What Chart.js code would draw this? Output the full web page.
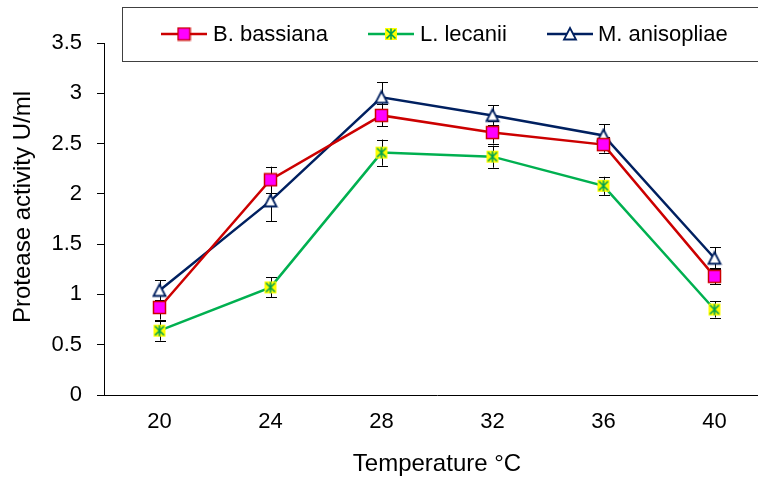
<!DOCTYPE html>
<html>
<head>
<meta charset="utf-8">
<script src="https://cdn.jsdelivr.net/npm/chart.js@4/dist/chart.umd.min.js"></script>
<style>
  body { margin: 0; background: #fff; }
  #wrap { width: 758px; height: 480px; overflow: hidden; position: relative; }
  #box { width: 778px; height: 480px; }
</style>
</head>
<body>
<div id="wrap"><div id="box"><canvas id="myChart"></canvas></div></div>
<script>
"use strict";

// data
const temps = ['20', '24', '28', '32', '36', '40'];
const bassiana = [0.87, 2.14, 2.78, 2.61, 2.49, 1.18];
const lecanii = [0.64, 1.07, 2.41, 2.37, 2.08, 0.85];
const anisopliae = [1.04, 1.93, 2.96, 2.78, 2.58, 1.36];
const bassianaErr = [0.12, 0.13, 0.11, 0.11, 0.08, 0.08];
const lecaniiErr = [0.10, 0.10, 0.13, 0.11, 0.09, 0.08];
const anisopliaeErr = [0.10, 0.20, 0.15, 0.10, 0.11, 0.11];
const yTicks = [0, 0.5, 1, 1.5, 2, 2.5, 3, 3.5];
const yTitle = 'Protease activity U/ml';

const FONT = 'Liberation Sans, Arial, sans-serif';

// marker images
function makeCanvas(w, h, draw) {
  const c = document.createElement('canvas');
  c.width = w; c.height = h;
  draw(c.getContext('2d'));
  return c;
}
const squareMark = makeCanvas(15, 15, (ctx) => {
  ctx.fillStyle = '#ff00ff';
  ctx.fillRect(1.5, 1.5, 12, 12);
  ctx.strokeStyle = '#cc0000';
  ctx.lineWidth = 1.5;
  ctx.strokeRect(1.5, 1.5, 12, 12);
});
const starMark = makeCanvas(14, 14, (ctx) => {
  ctx.fillStyle = '#ffff00';
  ctx.fillRect(1, 1, 12, 12);
  ctx.strokeStyle = '#00a050';
  ctx.lineWidth = 1.6;
  ctx.beginPath();
  ctx.moveTo(2.5, 2.5); ctx.lineTo(11.5, 11.5);
  ctx.moveTo(11.5, 2.5); ctx.lineTo(2.5, 11.5);
  ctx.moveTo(7, 1.5); ctx.lineTo(7, 12.5);
  ctx.stroke();
});
const triMark = makeCanvas(16, 16, (ctx) => {
  ctx.fillStyle = '#ffffff';
  ctx.strokeStyle = '#002060';
  ctx.lineWidth = 1.8;
  ctx.beginPath();
  ctx.moveTo(8, 2);
  ctx.lineTo(14, 13.5);
  ctx.lineTo(2, 13.5);
  ctx.closePath();
  ctx.fill();
  ctx.stroke();
});

const errors = [bassianaErr, lecaniiErr, anisopliaeErr];

const errorBars = {
  id: 'errorBars',
  beforeDatasetsDraw(chart) {
    const ctx = chart.ctx;
    const x = chart.scales.x, y = chart.scales.y;
    ctx.save();
    ctx.strokeStyle = '#000';
    ctx.lineWidth = 1;
    chart.data.datasets.forEach((ds, i) => {
      ds.data.forEach((v, j) => {
        const px = Math.round(x.getPixelForValue(j)) + 0.5;
        const top = y.getPixelForValue(v + errors[i][j]);
        const bot = y.getPixelForValue(v - errors[i][j]);
        ctx.beginPath();
        ctx.moveTo(px, top); ctx.lineTo(px, bot);
        ctx.moveTo(px - 5.5, Math.round(top) + 0.5); ctx.lineTo(px + 5.5, Math.round(top) + 0.5);
        ctx.moveTo(px - 5.5, Math.round(bot) + 0.5); ctx.lineTo(px + 5.5, Math.round(bot) + 0.5);
        ctx.stroke();
      });
    });
    ctx.restore();
  }
};

// y title sits a bit above the middle of the axis in the original
const yTitlePlugin = {
  id: 'yTitlePlugin',
  afterDraw(chart) {
    const ctx = chart.ctx;
    ctx.save();
    ctx.translate(23, 207);
    ctx.rotate(-Math.PI / 2);
    ctx.fillStyle = '#000';
    ctx.font = '24px ' + FONT;
    ctx.textAlign = 'center';
    ctx.textBaseline = 'middle';
    ctx.fillText(yTitle, 0, 0);
    ctx.restore();
  }
};

const legendBox = {
  id: 'legendBox',
  afterDraw(chart) {
    const ctx = chart.ctx;
    ctx.save();
    ctx.fillStyle = '#fff';
    ctx.fillRect(122.5, 7.5, 660, 54);
    ctx.strokeStyle = '#404040';
    ctx.lineWidth = 1;
    ctx.strokeRect(122.5, 7.5, 660, 54);
    const items = [[161, 213], [368, 420], [547, 598]];
    const cy = 34;
    chart.data.datasets.forEach((ds, i) => {
      const [x0, tx] = items[i];
      ctx.strokeStyle = ds.borderColor;
      ctx.lineWidth = 2.5;
      ctx.beginPath();
      ctx.moveTo(x0, cy); ctx.lineTo(x0 + 46, cy);
      ctx.stroke();
      const img = ds.pointStyle;
      ctx.drawImage(img, x0 + 23 - img.width / 2, cy - img.height / 2);
      ctx.fillStyle = '#000';
      ctx.font = '22px ' + FONT;
      ctx.textBaseline = 'middle';
      ctx.fillText(ds.label, tx, cy + 1);
    });
    ctx.restore();
  }
};

const data = {
  labels: temps,
  datasets: [{
    label: 'B. bassiana',
    data: bassiana,
    borderColor: '#cc0000',
    pointStyle: squareMark
  },
  {
    label: 'L. lecanii',
    data: lecanii,
    borderColor: '#00b050',
    pointStyle: starMark
  },
  {
    label: 'M. anisopliae',
    data: anisopliae,
    borderColor: '#002060',
    pointStyle: triMark
  }]
};

const config = {
  type: 'line',
  data,
  options: {
    responsive: true,
    maintainAspectRatio: false,
    animation: false,
    events: [],
    layout: { padding: { top: 43, right: 2, left: 0, bottom: 0 } },
    elements: {
      line: { borderWidth: 2.5, tension: 0, fill: false },
      point: { radius: 7 }
    },
    plugins: {
      legend: { display: false },
      tooltip: { enabled: false }
    },
    scales: {
      x: {
        offset: true,
        grid: { display: false, drawTicks: false },
        border: { color: '#000', width: 1 },
        ticks: { color: '#000', font: { family: FONT, size: 22 }, padding: 14 },
        title: {
          display: true, text: 'Temperature °C', color: '#000',
          font: { family: FONT, size: 24 }, padding: { top: 2, bottom: 1 }
        },
        afterFit(scale) { scale.height = 85; }
      },
      y: {
        min: 0,
        max: 3.5,
        afterBuildTicks(scale) { scale.ticks = yTicks.map((v) => ({ value: v })); },
        grid: { drawOnChartArea: false, tickLength: 7, color: '#000' },
        border: { color: '#000', width: 1 },
        ticks: {
          color: '#000', font: { family: FONT, size: 22 }, padding: 15,
          callback: (v) => String(v)
        },
        afterFit(scale) { scale.width = 104; }
      }
    }
  },
  plugins: [errorBars, legendBox, yTitlePlugin]
};

const myChart = new Chart(document.getElementById('myChart'), config);
</script>
</body>
</html>
